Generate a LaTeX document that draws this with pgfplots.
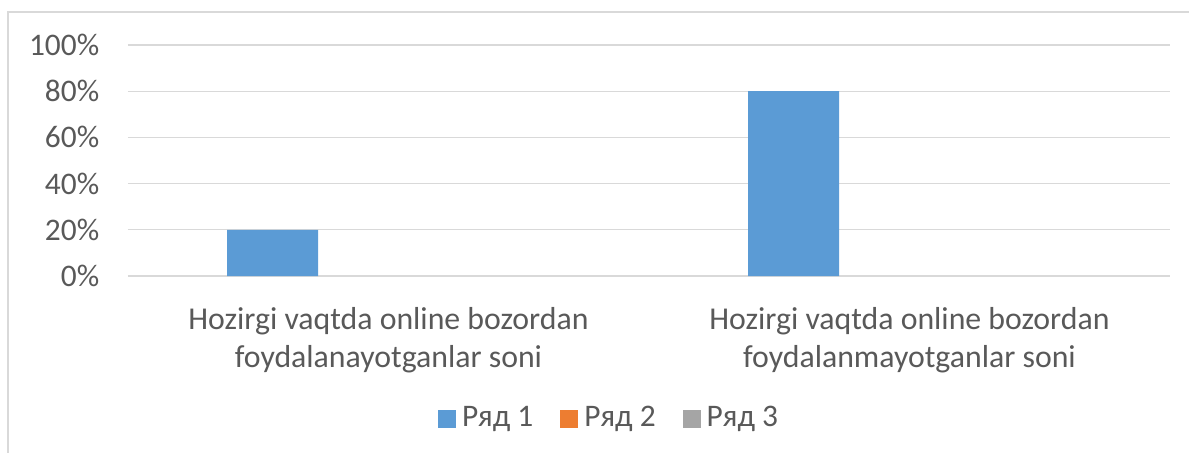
\documentclass[border=0pt]{standalone}
\usepackage{pgfplots}
\pgfplotsset{compat=1.18}
\usepackage{fontspec}
\setmainfont{Carlito}
\definecolor{s1}{HTML}{5B9BD5}
\definecolor{s2}{HTML}{ED7D31}
\definecolor{s3}{HTML}{A5A5A5}
\definecolor{gridc}{HTML}{D9D9D9}
\definecolor{txt}{HTML}{595959}
\begin{document}
\fontsize{15.5pt}{19pt}\selectfont
\begin{tikzpicture}
\useasboundingbox (0,0) rectangle (594.5pt,-226pt);
\draw[gridc, line width=1pt] (4pt,-230pt) -- (4pt,-6pt) -- (600pt,-6pt);
\begin{axis}[
  at={(64pt,-138pt)}, anchor=south west,
  scale only axis, width=521pt, height=115.5pt,
  xmin=-0.5, xmax=1.5, ymin=0, ymax=100,
  axis line style={draw=none},
  major tick length=0pt,
  ymajorgrids, grid style={gridc, line width=0.6pt},
  ytick={0,20,40,60,80,100},
  yticklabels={0\%,20\%,40\%,60\%,80\%,100\%},
  xtick={0,1},
  xticklabels={Hozirgi vaqtda online bozordan\\foydalanayotganlar soni,
               Hozirgi vaqtda online bozordan\\foydalanmayotganlar soni},
  xticklabel style={align=center, text=txt, font=\fontsize{15.9pt}{19pt}\selectfont, yshift=-10.5pt},
  yticklabel style={text=txt, font=\fontsize{15.7pt}{19pt}\selectfont, xshift=-9pt},
  /pgf/number format/assume math mode=true,
  ybar, bar width=45.5pt,
  legend style={draw=none, fill=none, legend columns=3,
    at={(0.4626,-0.619)}, anchor=center,
    font=\fontsize{15.7pt}{19pt}\selectfont, text=txt,
    /tikz/every odd column/.append style={column sep=1pt},
    /tikz/every even column/.append style={column sep=11.5pt}},
  legend image code/.code={\fill[#1] (0pt,-4.5pt) rectangle (9pt,4.5pt);},
]
\addplot[fill=s1, draw=none, bar shift=-58pt] coordinates {(0,20) (1,80)};
\addlegendentry{Ряд 1}
\addlegendimage{fill=s2, draw=none}
\addlegendentry{Ряд 2}
\addlegendimage{fill=s3, draw=none}
\addlegendentry{Ряд 3}
\end{axis}
\end{tikzpicture}
\end{document}
